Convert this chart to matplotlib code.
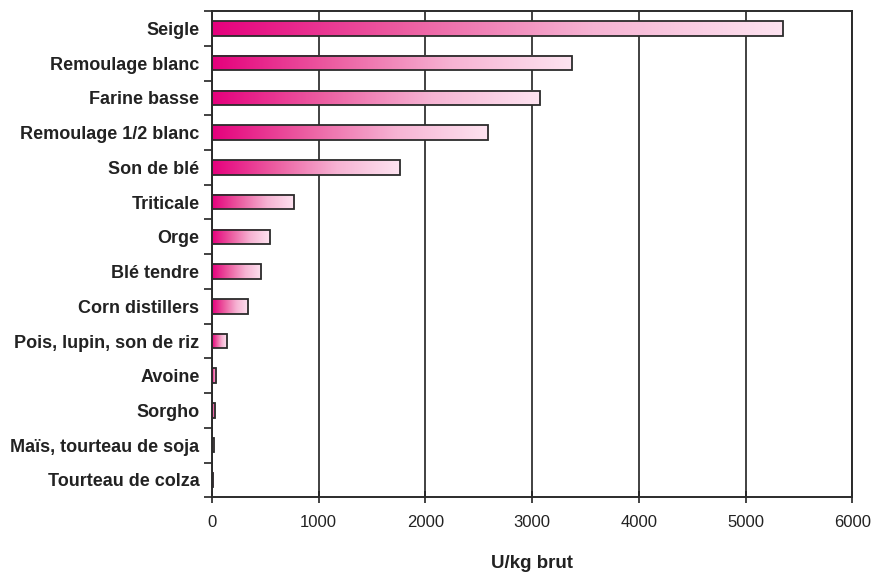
import numpy as np
import matplotlib
matplotlib.use("Agg")
import matplotlib.pyplot as plt
from matplotlib.colors import LinearSegmentedColormap
from matplotlib.ticker import FixedLocator

plt.rcParams['font.family'] = ['Liberation Sans', 'DejaVu Sans']

categories = ["Seigle", "Remoulage blanc", "Farine basse", "Remoulage 1/2 blanc",
              "Son de blé", "Triticale", "Orge", "Blé tendre", "Corn distillers",
              "Pois, lupin, son de riz", "Avoine", "Sorgho",
              "Maïs, tourteau de soja", "Tourteau de colza"]
values = [5350, 3370, 3070, 2590, 1760, 770, 540, 460, 340, 140, 40, 30, 15, 10]
xticks = [0, 1000, 2000, 3000, 4000, 5000, 6000]

pink = LinearSegmentedColormap.from_list("pink_grad", ["#e5007d", "#ec5da1", "#f6b3d3", "#fde3f0"])
grad = np.linspace(0, 1, 256).reshape(1, -1)

fig = plt.figure(figsize=(8.76, 5.83), dpi=100)
ax = fig.add_axes([0.242, 0.147, 0.731, 0.834])

ypos = np.arange(len(categories))
h = 0.42
for y, v in zip(ypos, values):
    ax.imshow(grad, extent=[0, v, y + h / 2, y - h / 2], aspect='auto',
              cmap=pink, interpolation='bicubic', zorder=2)
ax.barh(ypos, values, height=h, facecolor='none', edgecolor='#2b2b2b',
        linewidth=1.3, zorder=3)

ax.set_xlim(0, 6000)
ax.set_ylim(len(categories) - 0.5, -0.5)
ax.set_xticks(xticks)
ax.set_xticklabels([str(t) for t in xticks], fontsize=12, color='#222222')
ax.xaxis.grid(True, color='#333333', linewidth=1.3, zorder=1)
ax.set_axisbelow(True)
ax.tick_params(axis='x', direction='inout', length=8, width=1.2, pad=9, color='#222222')

ax.set_yticks(ypos)
ax.set_yticklabels(categories, fontsize=13, fontweight='bold', color='#222222')
ax.tick_params(axis='y', which='major', length=0, pad=9)
ax.yaxis.set_minor_locator(FixedLocator(np.arange(len(categories) + 1) - 0.5))
ax.tick_params(axis='y', which='minor', direction='out', length=6, width=1.2, color='#222222')

for s in ax.spines.values():
    s.set_color('#2b2b2b')
    s.set_linewidth(1.4)

ax.set_xlabel("U/kg brut", fontsize=13.5, fontweight='bold', color='#222222', labelpad=18)

fig.savefig("out.png", dpi=100)
